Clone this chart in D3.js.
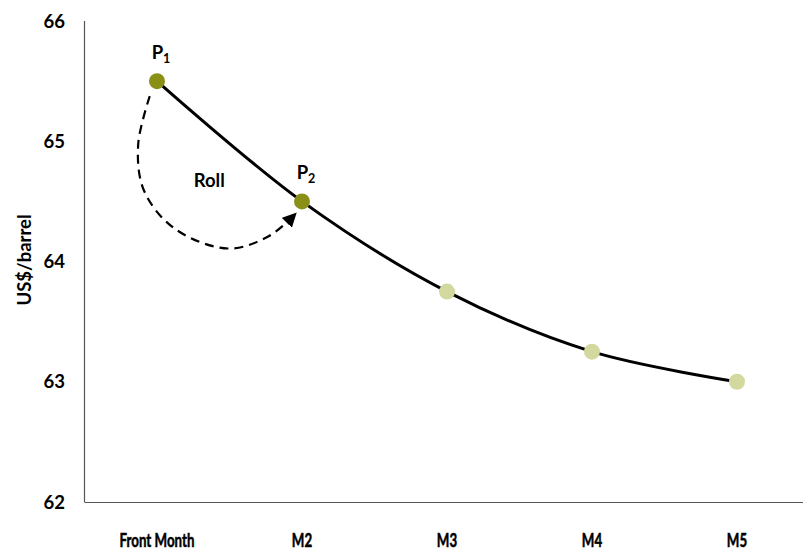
<!DOCTYPE html>
<html><head><meta charset="utf-8">
<script src="https://cdn.jsdelivr.net/npm/d3@7"></script>
<style>body{margin:0;background:#fff}text{font-family:Lato,"Open Sans",sans-serif;font-weight:bold;fill:#000}</style>
</head><body><svg id="c" width="803" height="550"></svg>
<script>
const categories = ["Front Month","M2","M3","M4","M5"];
const prices = [65.5, 64.5, 63.75, 63.25, 63.0];
const markerType = ["roll","roll","curve","curve","curve"];
const yTicks = [62,63,64,65,66];
const pointLabels = [{idx:0, text:"P", sub:"1"},{idx:1, text:"P", sub:"2"}];
// roll arc guide points: [category position (0=Front Month), value]
const rollArc = [[-0.05,65.375],[-0.13,64.97],[-0.09,64.59],[0.12,64.275],[0.49,64.108],[0.77,64.21],[0.95,64.39]];
const colors = {roll:"#8a8f16", curve:"#d3d89e"};

(function(){
const svg = d3.select("#c");
const pLeft = 84.5, pTop = 21, pBottom = 502;
const x = d3.scalePoint().domain(categories).range([157, 737]);
const step = x.step();
const y = d3.scaleLinear().domain([62,66]).range([pBottom, pTop]);
const xp = t => x(categories[0]) + t*step;
function squeeze(sel, f){ sel.each(function(){ const w=this.getComputedTextLength(); d3.select(this).attr("textLength",w*f).attr("lengthAdjust","spacingAndGlyphs"); }); }

// axes
svg.append("line").attr("x1",pLeft).attr("x2",pLeft).attr("y1",pTop).attr("y2",pBottom).attr("stroke","#555").attr("stroke-width",1.2);
svg.append("line").attr("x1",pLeft).attr("x2",803).attr("y1",pBottom+0.5).attr("y2",pBottom+0.5).attr("stroke","#555").attr("stroke-width",1.2);
svg.selectAll(".yt").data(yTicks).enter().append("text")
  .attr("x",65).attr("y",d=>y(d)).attr("dy","0.36em").attr("text-anchor","end")
  .style("font-size","18.5px").text(d=>d);
const xl = svg.selectAll(".xt").data(categories).enter().append("text")
  .attr("x",d=>x(d)).attr("y",547).attr("text-anchor","middle")
  .style("font-size","18.5px").attr("stroke","#000").attr("stroke-width",0.5).text(d=>d);
squeeze(xl, 0.72);
svg.append("text").attr("transform","translate(31,260) rotate(-90)").attr("text-anchor","middle")
  .style("font-size","18.5px").text("US$/barrel");

// curve
svg.append("path").datum(prices.map((v,i)=>[x(categories[i]),y(v)]))
  .attr("d",d3.line().curve(d3.curveCatmullRom.alpha(0.5)))
  .attr("fill","none").attr("stroke","#000").attr("stroke-width",3);

// arrow marker
svg.append("defs").append("marker").attr("id","ah").attr("viewBox","0 0 10 10")
  .attr("refX",8).attr("refY",5).attr("markerWidth",6.5).attr("markerHeight",6.5).attr("orient","auto")
  .append("path").attr("d","M0,0L10,5L0,10z").attr("fill","#000");
svg.append("path").datum(rollArc.map(p=>[xp(p[0]),y(p[1])]))
  .attr("d",d3.line().curve(d3.curveCatmullRom))
  .attr("fill","none").attr("stroke","#000").attr("stroke-width",2.2)
  .attr("stroke-dasharray","9,6").attr("marker-end","url(#ah)");

// markers
svg.selectAll(".pt").data(prices).enter().append("circle")
  .attr("cx",(d,i)=>x(categories[i])).attr("cy",d=>y(d)).attr("r",8)
  .attr("fill",(d,i)=>colors[markerType[i]]);

// labels
pointLabels.forEach(l=>{
  const t = svg.append("text").attr("x",x(categories[l.idx])+4).attr("y",y(prices[l.idx])-22)
    .attr("text-anchor","middle").style("font-size","18.5px");
  t.append("tspan").text(l.text);
  t.append("tspan").attr("dy",4).style("font-size","12.5px").text(l.sub);
});
svg.append("text").attr("x",xp(0.36)).attr("y",y(64.62)).attr("text-anchor","middle")
  .style("font-size","18.5px").text("Roll");
})();
</script></body></html>
